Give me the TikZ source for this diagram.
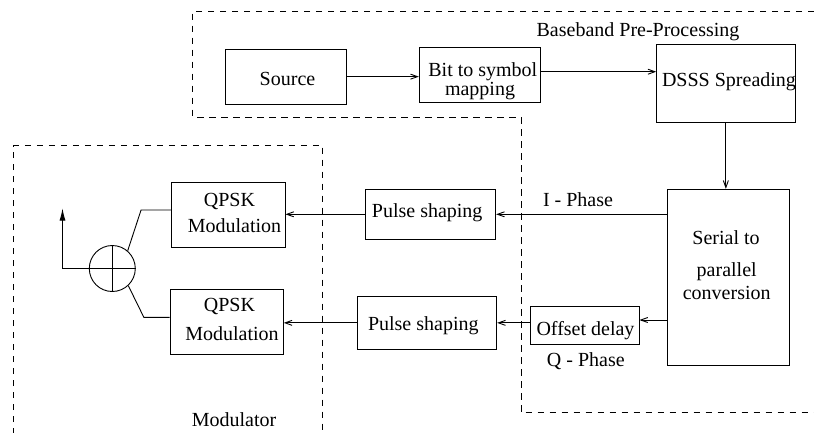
\documentclass[tikz,border=0pt]{standalone}
\usepackage{fontspec}
\setmainfont{Liberation Serif}
\usetikzlibrary{arrows.meta,calc}

\begin{document}
\begin{tikzpicture}[
  x=1pt, y=-1pt,
  every node/.style={font=\fontsize{20}{24}\selectfont},
  box/.style={draw, line width=0.9pt, rectangle, inner sep=0pt},
  txt/.style={inner sep=0pt, anchor=base},
  wire/.style={draw, line width=0.9pt},
  flow/.style={wire, -{Straight Barb[length=7pt,width=5pt,line width=0.9pt]}},
  group/.style={draw, line width=0.9pt, dash pattern=on 6.5pt off 5.5pt},
]
\useasboundingbox (0,0) rectangle (814,432);

% dashed group outlines
\draw[group] (814,11) -- (192.7,11) -- (192.7,117) -- (521,117) -- (521,412.7) -- (814,412.7);
\draw[group] (13.3,434) -- (13.3,145.5) -- (322.7,145.5) -- (322.7,434);
\node[txt] (bbtitle) at (638,36) {Baseband Pre-Processing};
\node[txt] (modtitle) at (234,426.7) {Modulator};

% processing blocks
\node[box, minimum width=121pt,   minimum height=55.3pt] (src)  at (285.5,76.65) {};
\node[box, minimum width=120.7pt, minimum height=54.6pt] (bit)  at (479.65,75) {};
\node[box, minimum width=138.3pt, minimum height=78.7pt] (dsss) at (725.85,83.35) {};
\node[box, minimum width=122pt,   minimum height=175.7pt] (sp)  at (728.3,277.15) {};
\node[box, minimum width=130.7pt, minimum height=50pt]   (ps1)  at (430.35,214.3) {};
\node[box, minimum width=139.4pt, minimum height=52.3pt] (ps2)  at (427,322.85) {};
\node[box, minimum width=109pt,   minimum height=38pt]   (od)   at (584.5,325) {};
\node[box, minimum width=113.3pt, minimum height=65.4pt] (q1)   at (228.35,215) {};
\node[box, minimum width=113.3pt, minimum height=65pt]   (q2)   at (226.65,321.5) {};
\node[draw, line width=0.9pt, circle, inner sep=0pt, minimum size=46pt] (sum) at (112.3,268.5) {};

% block labels
\node[txt] (src-t)  at (287.5,85)   {Source};
\node[txt] (bit-t1) at (482.8,76)   {Bit to symbol};
\node[txt] (bit-t2) at (480,95)     {mapping};
\node[txt] (dsss-t) at (729,86.7)   {DSSS Spreading};
\node[txt] (sp-t1)  at (726,244)    {Serial to};
\node[txt] (sp-t2)  at (726.7,276)  {parallel};
\node[txt] (sp-t3)  at (726.7,299)  {conversion};
\node[txt] (ps1-t)  at (427.2,217.3) {Pulse shaping};
\node[txt] (ps2-t)  at (423.3,330)  {Pulse shaping};
\node[txt] (od-t)   at (585.5,335)  {Offset delay};
\node[txt] (q1-t1)  at (229.5,206)  {QPSK};
\node[txt] (q1-t2)  at (234.5,232.7) {Modulation};
\node[txt] (q2-t1)  at (229.5,311.7) {QPSK};
\node[txt] (q2-t2)  at (232,340.7)  {Modulation};

% summing junction cross
\draw[wire] (sum.north) -- (sum.south) (sum.west) -- (sum.east);

% signal flow
\draw[flow] (src.east) -- (src.east -| bit.west);
\coordinate (bitout) at ([yshift=3.3pt]bit.east);
\draw[flow] (bitout) -- (bitout -| dsss.west);
\draw[flow] (dsss.south) -- (dsss.south |- sp.north);
\draw[flow] (sp.west |- ps1.east) -- (ps1.east);
\node[txt] (iphase) at (578,206) {I - Phase};
\coordinate (odin) at ([yshift=5pt]od.east);
\draw[flow] (sp.west |- odin) -- (odin);
\node[txt] (qphase) at (585.8,366.7) {Q - Phase};
\draw[flow] (od.west |- ps2.east) -- (ps2.east);
\draw[flow] (ps1.west) -- (ps1.west -| q1.east);
\draw[flow] (ps2.west) -- (ps2.west -| q2.east);

% into the adder and out
\coordinate (q1in) at ([yshift=5pt]q1.west);
\draw[wire] (q1in) -- ++(-30.2,0) -- (sum.49);
\coordinate (q2in) at ([yshift=4.2pt]q2.west);
\draw[wire] (q2in) -- ++(-25.7,0) -- (sum.-47);
\coordinate (out) at (62.5,208.5);
\draw[wire, -{Latex[length=12pt,width=6pt]}] (sum.west) -| (out);
\end{tikzpicture}
\end{document}
